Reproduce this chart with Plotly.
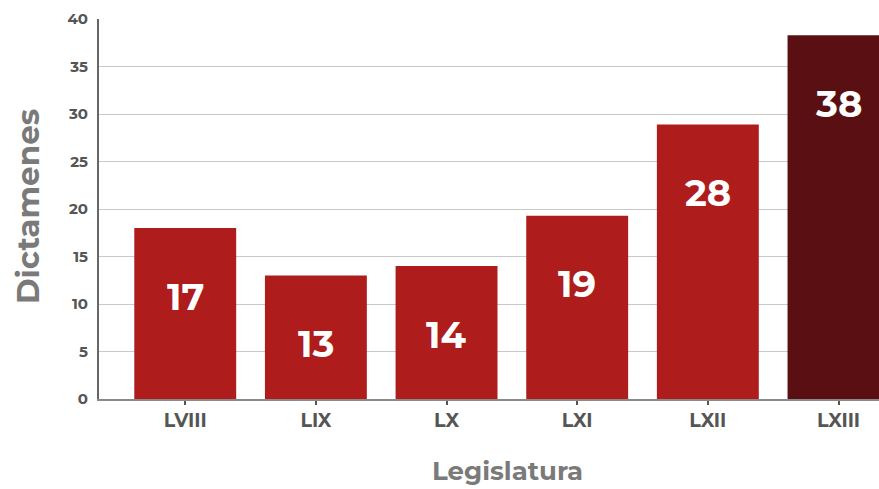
import plotly.graph_objects as go

categories = ["LVIII", "LIX", "LX", "LXI", "LXII", "LXIII"]
bar_heights = [18, 13, 14, 19.3, 28.9, 38.3]
value_labels = ["17", "13", "14", "19", "28", "38"]
bar_colors = ["#AE1C1C", "#AE1C1C", "#AE1C1C", "#AE1C1C", "#AE1C1C", "#5A1012"]
y_ticks = [0, 5, 10, 15, 20, 25, 30, 35, 40]

FONT = "Montserrat, 'Open Sans', Lato, sans-serif"

fig = go.Figure(go.Bar(
    x=list(range(len(categories))),
    y=bar_heights,
    marker=dict(color=bar_colors, line=dict(width=0)),
    width=0.78,
    hoverinfo="skip",
))

for i, (h, lab) in enumerate(zip(bar_heights, value_labels)):
    fig.add_annotation(x=i, y=h, text=f"<b>{lab}</b>", showarrow=False,
                       yanchor="middle", yshift=-68,
                       font=dict(family=FONT, size=37, color="white"))

fig.add_annotation(text="<b>Dictamenes</b>", xref="paper", yref="paper",
                   x=-0.091, y=0.505, textangle=-90, showarrow=False,
                   xanchor="center", yanchor="middle",
                   font=dict(family=FONT, size=31, color="#7a7a7a"))
fig.add_annotation(text="<b>Legislatura</b>", xref="paper", yref="paper",
                   x=0.524, y=0, yshift=-72, showarrow=False,
                   xanchor="center", yanchor="middle",
                   font=dict(family=FONT, size=26, color="#7a7a7a"))

fig.update_layout(
    width=879, height=489,
    margin=dict(l=99, r=0, t=19, b=90),
    paper_bgcolor="white", plot_bgcolor="white",
    showlegend=False,
    hovermode=False,
    xaxis=dict(
        range=[-0.66, 5.31],
        tickmode="array", tickvals=list(range(len(categories))), ticktext=[f"<b>{c}</b>" for c in categories],
        tickfont=dict(family=FONT, size=19, color="#555555"),
        ticks="outside", ticklen=4, tickwidth=2, tickcolor="#555555",
        showline=True, linecolor="#8a8a8a", linewidth=1.5,
        showgrid=False, zeroline=False,
    ),
    yaxis=dict(
        range=[0, 40],
        tickmode="array", tickvals=y_ticks, ticktext=[f"<b>{t}</b>" for t in y_ticks],
        tickfont=dict(family=FONT, size=15, color="#555555"),
        ticks="", ticklabelstandoff=6,
        showline=True, linecolor="#666666", linewidth=2,
        showgrid=True, gridcolor="#c8c8c8", gridwidth=1,
        zeroline=False,
    ),
)

fig.write_html(
    "out.html",
    config={"displayModeBar": False, "staticPlot": True},
    post_script="document.body.style.margin='0';document.body.style.overflow='hidden';document.documentElement.style.overflow='hidden';",
)
